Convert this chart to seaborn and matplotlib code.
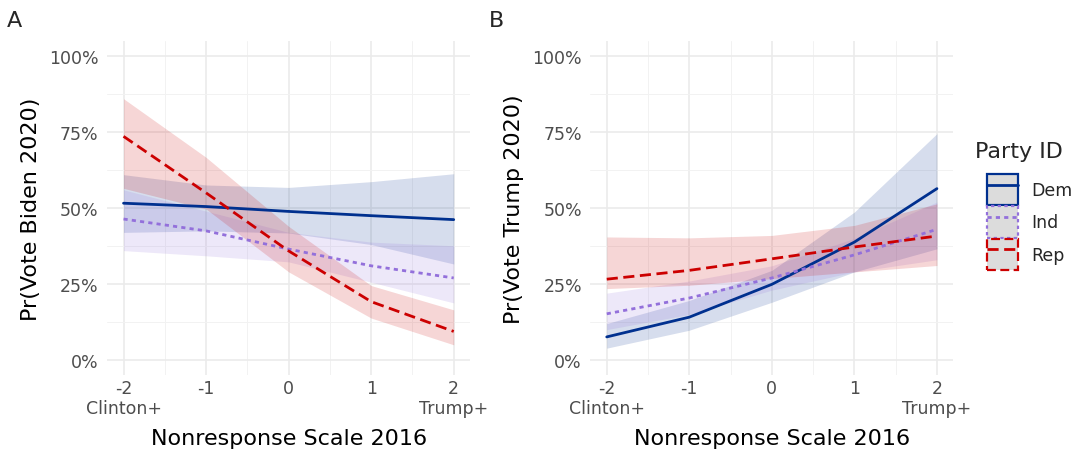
import numpy as np
import pandas as pd
import matplotlib
matplotlib.use("Agg")
import matplotlib.pyplot as plt
import seaborn as sns
from matplotlib.patches import Patch
from matplotlib.lines import Line2D
from matplotlib.ticker import FixedLocator

# ---------------- data ----------------
scale = [-2, -1, 0, 1, 2]
tick_labels = ["-2\nClinton+", "-1", "0", "1", "2\nTrump+"]
parties = ["Dem", "Ind", "Rep"]

# Panel A: Pr(Vote Biden 2020)
biden_dem = [0.516, 0.505, 0.489, 0.475, 0.462]
biden_dem_lo = [0.42, 0.425, 0.418, 0.38, 0.316]
biden_dem_hi = [0.61, 0.576, 0.568, 0.587, 0.613]
biden_ind = [0.464, 0.425, 0.365, 0.31, 0.27]
biden_ind_lo = [0.36, 0.343, 0.323, 0.256, 0.188]
biden_ind_hi = [0.56, 0.49, 0.42, 0.388, 0.376]
biden_rep = [0.736, 0.55, 0.359, 0.192, 0.094]
biden_rep_lo = [0.565, 0.497, 0.29, 0.138, 0.05]
biden_rep_hi = [0.86, 0.667, 0.44, 0.245, 0.165]

# Panel B: Pr(Vote Trump 2020)
trump_dem = [0.076, 0.141, 0.249, 0.388, 0.564]
trump_dem_lo = [0.039, 0.098, 0.19, 0.29, 0.366]
trump_dem_hi = [0.12, 0.196, 0.295, 0.487, 0.745]
trump_ind = [0.152, 0.204, 0.27, 0.346, 0.43]
trump_ind_lo = [0.10, 0.15, 0.23, 0.29, 0.33]
trump_ind_hi = [0.22, 0.26, 0.31, 0.40, 0.52]
trump_rep = [0.266, 0.295, 0.333, 0.372, 0.408]
trump_rep_lo = [0.235, 0.246, 0.268, 0.29, 0.311]
trump_rep_hi = [0.405, 0.402, 0.41, 0.443, 0.514]

colors = {"Dem": "#00308F", "Ind": "#9370DB", "Rep": "#CC0000"}
styles = {"Dem": "-", "Ind": (0, (1.5, 1.5)), "Rep": (0, (4, 2))}

panels = {
    "A": {"ylabel": "Pr(Vote Biden 2020)",
          "Dem": (biden_dem, biden_dem_lo, biden_dem_hi),
          "Ind": (biden_ind, biden_ind_lo, biden_ind_hi),
          "Rep": (biden_rep, biden_rep_lo, biden_rep_hi)},
    "B": {"ylabel": "Pr(Vote Trump 2020)",
          "Dem": (trump_dem, trump_dem_lo, trump_dem_hi),
          "Ind": (trump_ind, trump_ind_lo, trump_ind_hi),
          "Rep": (trump_rep, trump_rep_lo, trump_rep_hi)},
}

# ---------------- plot ----------------
sns.set_theme(style="white")
plt.rcParams["font.family"] = ["DejaVu Sans"]

fig = plt.figure(figsize=(10.81, 4.56), dpi=100)
axA = fig.add_axes([0.099, 0.175, 0.336, 0.733])
axB = fig.add_axes([0.546, 0.175, 0.336, 0.733])

for ax, key in [(axA, "A"), (axB, "B")]:
    p = panels[key]
    rows = []
    for party in parties:
        est, lo, hi = p[party]
        ax.fill_between(scale, lo, hi, color=colors[party], alpha=0.16, linewidth=0, zorder=2)
        for x, v in zip(scale, est):
            rows.append({"scale": x, "prob": v, "party": party})
    df = pd.DataFrame(rows)
    for party in parties:
        sns.lineplot(data=df[df.party == party], x="scale", y="prob", ax=ax,
                     color=colors[party], linestyle=styles[party], linewidth=2.0,
                     legend=False, zorder=3)
    ax.set_xlim(-2.2, 2.2)
    ax.set_ylim(-0.05, 1.05)
    ax.set_xticks(scale)
    ax.set_xticklabels(tick_labels)
    ax.set_yticks([0, 0.25, 0.5, 0.75, 1.0])
    ax.set_yticklabels(["0%", "25%", "50%", "75%", "100%"])
    ax.xaxis.set_minor_locator(FixedLocator([-1.5, -0.5, 0.5, 1.5]))
    ax.yaxis.set_minor_locator(FixedLocator([0.125, 0.375, 0.625, 0.875]))
    ax.grid(True, which="major", color="#EBEBEB", linewidth=1.2, zorder=0)
    ax.grid(True, which="minor", color="#F2F2F2", linewidth=0.7, zorder=0)
    ax.set_axisbelow(True)
    for s in ax.spines.values():
        s.set_visible(False)
    ax.tick_params(axis="both", which="both", length=0, labelsize=12.5,
                   labelcolor="#4D4D4D")
    ax.tick_params(axis="y", pad=6)
    ax.tick_params(axis="x", pad=3)
    ax.set_xlabel("Nonresponse Scale 2016", fontsize=16, color="black", labelpad=8)
    ax.set_ylabel(p["ylabel"], fontsize=16, color="black", labelpad=6)
    for lab in ax.get_xticklabels():
        lab.set_linespacing(1.1)

fig.text(0.006, 0.975, "A", fontsize=16, va="top", ha="left")
fig.text(0.452, 0.975, "B", fontsize=16, va="top", ha="left")

# legend title drawn separately, entries below it
fig.text(0.902, 0.667, "Party ID", fontsize=16, va="center", ha="left")
handles = []
for party in parties:
    patch = Patch(facecolor="#DCDCDC", alpha=1.0, edgecolor=colors[party],
                  linestyle=styles[party], linewidth=1.6)
    line = Line2D([], [], color=colors[party], linestyle=styles[party], linewidth=2.0)
    handles.append((patch, line))
leg = fig.legend(handles, parties, loc="upper left",
                 bbox_to_anchor=(0.913, 0.616), frameon=False, fontsize=12.5,
                 handlelength=1.8, handleheight=2.4,
                 labelspacing=0.06, handletextpad=0.75, borderaxespad=0,
                 borderpad=0)

fig.savefig("out.png", dpi=100)
